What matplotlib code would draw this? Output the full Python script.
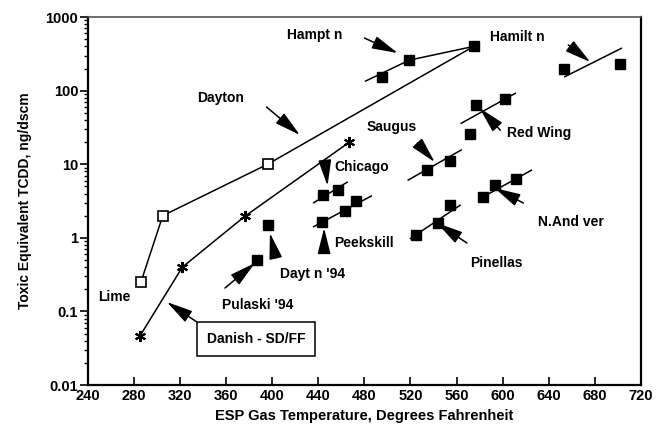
import matplotlib
matplotlib.use("Agg")
import matplotlib.pyplot as plt
from matplotlib.ticker import FixedLocator, LogLocator, NullFormatter

plt.rcParams['font.family'] = ['Liberation Sans', 'DejaVu Sans']

# Dayton / Lime (open squares), ending at the Hamilton point
dayton_x = [286, 305, 396, 575]
dayton_y = [0.25, 2.0, 10.0, 400]

# Danish - SD/FF (asterisks)
danish_x = [285, 322, 376, 467]
danish_y = [0.046, 0.40, 1.95, 20]

# single points
pulaski_x = [387]
pulaski_y = [0.5]
dayton94_x = [396]
dayton94_y = [1.5]
hamilton_top_x = [575]
hamilton_top_y = [400]

# plant clusters (filled squares) and their trend lines
hampton_x = [495, 519]
hampton_y = [152, 260]
hampton_line_x = [481, 519, 575]
hampton_line_y = [135, 260, 400]

hamilton_x = [653, 702]
hamilton_y = [200, 228]
hamilton_line_x = [654, 703]
hamilton_line_y = [155, 376]

saugus_x = [534, 554]
saugus_y = [8.3, 11.2]
saugus_line_x = [518, 564]
saugus_line_y = [6.1, 15.6]

redwing_x = [572, 577, 602]
redwing_y = [26, 64, 76]
redwing_line_x = [564, 611]
redwing_line_y = [36, 92]

chicago_x = [444, 457]
chicago_y = [3.8, 4.5]
chicago_line_x = [436, 465]
chicago_line_y = [3.0, 5.7]

peekskill_x = [443, 463, 473]
peekskill_y = [1.65, 2.35, 3.2]
peekskill_line_x = [436, 486]
peekskill_line_y = [1.42, 3.7]

pinellas_x = [525, 544, 554]
pinellas_y = [1.09, 1.57, 2.8]
pinellas_line_x = [520, 563]
pinellas_line_y = [0.98, 2.77]

andover_x = [583, 593, 612]
andover_y = [3.6, 5.2, 6.4]
andover_line_x = [583, 625]
andover_line_y = [3.6, 8.3]

x_ticks = [240, 280, 320, 360, 400, 440, 480, 520, 560, 600, 640, 680, 720]
y_ticks = [0.01, 0.1, 1, 10, 100, 1000]
y_tick_labels = ['0.01', '0.1', '1', '10', '100', '1000']

fig = plt.figure(figsize=(6.56, 4.38), dpi=100)
ax = fig.add_axes([0.134, 0.121, 0.843, 0.840])

lw = 1.1
ax.plot(dayton_x, dayton_y, color='black', lw=lw)
ax.plot(dayton_x[:-1], dayton_y[:-1], ls='none', marker='s', ms=6.5,
        mfc='white', mec='black', mew=1.2)
ax.plot(danish_x, danish_y, color='black', lw=lw, marker=(6, 2, 0), ms=8,
        mec='black', mew=1.5)

for lx, ly in [(hampton_line_x, hampton_line_y), (hamilton_line_x, hamilton_line_y),
               (saugus_line_x, saugus_line_y), (redwing_line_x, redwing_line_y),
               (chicago_line_x, chicago_line_y), (peekskill_line_x, peekskill_line_y),
               (pinellas_line_x, pinellas_line_y), (andover_line_x, andover_line_y)]:
    ax.plot(lx, ly, color='black', lw=lw)

for px, py in [(pulaski_x, pulaski_y), (dayton94_x, dayton94_y),
               (hamilton_top_x, hamilton_top_y),
               (hampton_x, hampton_y), (hamilton_x, hamilton_y),
               (saugus_x, saugus_y), (redwing_x, redwing_y),
               (chicago_x, chicago_y), (peekskill_x, peekskill_y),
               (pinellas_x, pinellas_y), (andover_x, andover_y)]:
    ax.plot(px, py, ls='none', marker='s', ms=7, color='black')

ax.set_yscale('log')
ax.set_xlim(240, 720)
ax.set_ylim(0.01, 1000)

# labels and arrows
txt = dict(fontsize=10, fontweight='bold', va='center', ha='left')
arr = dict(arrowstyle='-|>,head_length=1.6,head_width=0.4', fc='black',
           ec='black', lw=1.1, shrinkA=0, shrinkB=0, mutation_scale=10)

labels = [
    ("Hampt n", (413, 569), (480, 519), (509, 324)),
    ("Hamilt n", (589, 535), (657, 417), (676, 245)),
    ("Dayton", (335, 79), (395, 60), (424, 25)),
    ("Saugus", (482, 32), (526, 19.4), (541, 10.7)),
    ("Red Wing", (604, 26.5), (598, 29), (580, 58)),
    ("Chicago", (454, 9.2), (446, 10), (448, 5.1)),
    ("Peekskill", (454, 0.85), (445, 0.64), (445, 1.36)),
    ("Dayt n '94", (407, 0.32), (403, 0.53), (398, 1.16)),
    ("Pulaski '94", (356, 0.122), (359, 0.208), (385, 0.455)),
    ("N.And ver", (631, 1.64), (618, 2.97), (593, 4.75)),
    ("Pinellas", (572, 0.455), (569, 0.85), (543, 1.59)),
]
for name, pos, tail, tip in labels:
    ax.text(pos[0], pos[1], name, **txt)
    ax.annotate('', xy=tip, xytext=tail, arrowprops=arr)

ax.text(249, 0.157, "Lime", **txt)
ax.text(343, 0.042, "Danish - SD/FF",
        bbox=dict(boxstyle='square,pad=0.7', fc='white', ec='black', lw=1.1), **txt)
ax.annotate('', xy=(308.6, 0.134), xytext=(334.6, 0.0718), arrowprops=arr)

# axes styling
ax.xaxis.set_major_locator(FixedLocator(x_ticks))
ax.set_xticklabels([str(t) for t in x_ticks])
ax.yaxis.set_major_locator(FixedLocator(y_ticks))
ax.set_yticklabels(y_tick_labels)
ax.yaxis.set_minor_locator(LogLocator(base=10, subs=range(2, 10)))
ax.yaxis.set_minor_formatter(NullFormatter())
ax.tick_params(axis='x', direction='in', length=6, width=1.2, pad=3,
               labelsize=10.5)
ax.tick_params(axis='y', which='major', direction='out', length=6, width=1.2,
               pad=1, labelsize=10.5)
ax.tick_params(axis='y', which='minor', direction='out', length=3, width=1)
for lbl in ax.get_xticklabels() + ax.get_yticklabels():
    lbl.set_fontweight('bold')

for side in ['left', 'bottom', 'right']:
    ax.spines[side].set_linewidth(1.6)
ax.spines['top'].set_linewidth(1.2)
ax.spines['top'].set_color('#555555')

ax.set_xlabel('ESP Gas Temperature, Degrees Fahrenheit', fontsize=10.5,
              fontweight='bold', labelpad=4)
ax.set_ylabel('Toxic Equivalent TCDD, ng/dscm', fontsize=10,
              fontweight='bold', labelpad=10)

fig.savefig('out.png', dpi=100)
